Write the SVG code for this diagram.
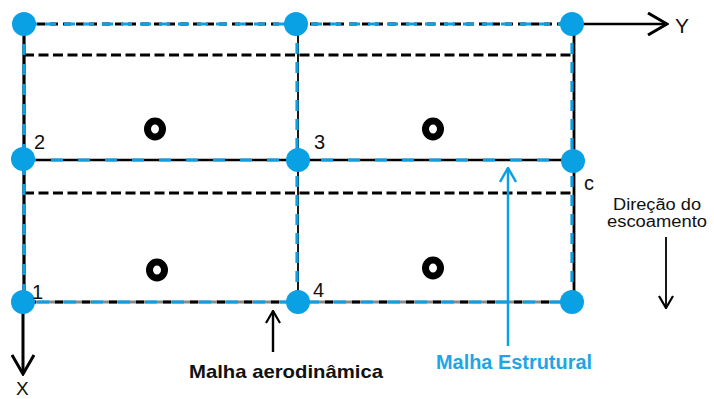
<svg xmlns="http://www.w3.org/2000/svg" width="714" height="399" viewBox="0 0 714 399">
<defs>
<style>
.lbl{font-family:"Liberation Sans",Arial,sans-serif;fill:#111;}
.num{font-family:"Liberation Sans",Arial,sans-serif;fill:#111;font-size:20px;}
.bold{font-family:"Liberation Sans",Arial,sans-serif;font-weight:bold;}
.node{fill:#0aa0e4;}
.ring{fill:none;stroke:#000;stroke-width:7;}
.blk{stroke:#000;fill:none;}
.blue{stroke:#0aa0e4;fill:none;}
.aero{stroke:#000;stroke-width:3.2;stroke-dasharray:10 4.5;fill:none;}
</style>
<marker id="bigK" viewBox="0 0 22 24" refX="20" refY="12" markerWidth="22" markerHeight="24" markerUnits="userSpaceOnUse" orient="auto">
<path d="M1,1 L20,12 L1,23" fill="none" stroke="#000" stroke-width="3"/>
</marker>
<marker id="smK" viewBox="0 0 14 16" refX="13" refY="8" markerWidth="14" markerHeight="16" markerUnits="userSpaceOnUse" orient="auto">
<path d="M1,1 L13,8 L1,15" fill="none" stroke="#000" stroke-width="2.2"/>
</marker>
<marker id="smB" viewBox="0 0 16 18" refX="15" refY="9" markerWidth="16" markerHeight="18" markerUnits="userSpaceOnUse" orient="auto">
<path d="M1,1 L15,9 L1,17" fill="none" stroke="#0aa0e4" stroke-width="2.5"/>
</marker>
</defs>
<rect width="714" height="399" fill="#fff"/>

<g id="aero-mesh">
<line class="aero" x1="24" y1="55" x2="573" y2="55"/>
<line class="aero" x1="24" y1="193" x2="573" y2="193"/>
<line class="blk" x1="24" y1="24" x2="573" y2="24" stroke-width="3" stroke-dasharray="8 5"/>
<line class="blk" x1="24" y1="160" x2="573" y2="160" stroke-width="2.6"/>
<line x1="24" y1="302" x2="573" y2="302" stroke="#8a8a8a" stroke-width="3"/>
<line class="blk" x1="24" y1="302" x2="573" y2="302" stroke-width="3.2" stroke-dasharray="8 19" stroke-dashoffset="-4"/>
<line class="blk" x1="24" y1="24" x2="24" y2="302" stroke-width="3.2"/>
<line class="blk" x1="298" y1="24" x2="298" y2="302" stroke-width="1.8"/>
<line class="blk" x1="574" y1="24" x2="574" y2="302" stroke-width="2.8"/>
</g>

<g id="struct-mesh">
<line class="blue" x1="24" y1="24" x2="573" y2="24" stroke-width="3.2" stroke-dasharray="11 8" stroke-dashoffset="-2"/>
<line class="blue" x1="24" y1="160" x2="573" y2="160" stroke-width="3.2" stroke-dasharray="12 15"/>
<line class="blue" x1="24" y1="302" x2="573" y2="302" stroke-width="3.2" stroke-dasharray="12 15" stroke-dashoffset="-13"/>
<line class="blue" x1="24" y1="24" x2="24" y2="302" stroke-width="3.2" stroke-dasharray="11 9"/>
<line class="blue" x1="297" y1="24" x2="297" y2="302" stroke-width="3.2" stroke-dasharray="11 8"/>
<line class="blue" x1="572" y1="24" x2="572" y2="302" stroke-width="3.2" stroke-dasharray="11 8"/>
</g>

<g id="connectors">
<line x1="573" y1="24" x2="667" y2="24" stroke="#000" stroke-width="2.6" marker-end="url(#bigK)"/>
<line x1="23" y1="302" x2="23" y2="374" stroke="#000" stroke-width="3" marker-end="url(#bigK)"/>
<line x1="666" y1="237" x2="666" y2="308" stroke="#000" stroke-width="1.8" marker-end="url(#smK)"/>
<line x1="273" y1="352" x2="273" y2="311" stroke="#000" stroke-width="2.4" marker-end="url(#smK)"/>
<line x1="508" y1="346" x2="508" y2="168" stroke="#0aa0e4" stroke-width="2.5" marker-end="url(#smB)"/>
</g>

<g id="n1"><circle class="node" cx="23" cy="302" r="12"/><text class="num" x="32" y="299">1</text></g>
<g id="n2"><circle class="node" cx="23" cy="159" r="12"/><text class="num" x="34" y="149">2</text></g>
<g id="n3"><circle class="node" cx="298" cy="160" r="12"/><text class="num" x="314" y="149">3</text></g>
<g id="n4"><circle class="node" cx="298" cy="302" r="12"/><text class="num" x="313" y="297">4</text></g>
<g id="n5"><circle class="node" cx="24" cy="24" r="12"/></g>
<g id="n6"><circle class="node" cx="296" cy="24" r="12"/></g>
<g id="n7"><circle class="node" cx="572" cy="24" r="12"/></g>
<g id="n8"><circle class="node" cx="573" cy="161" r="12"/><text class="lbl" x="584" y="190" font-size="20">c</text></g>
<g id="n9"><circle class="node" cx="572" cy="302" r="12"/></g>

<g id="control-points">
<ellipse class="ring" cx="155" cy="129" rx="7.5" ry="8"/>
<ellipse class="ring" cx="433" cy="129" rx="7.5" ry="8"/>
<ellipse class="ring" cx="157" cy="270" rx="7.5" ry="8"/>
<ellipse class="ring" cx="433" cy="268" rx="7.5" ry="8"/>
</g>

<g id="labels">
<text class="lbl" x="675" y="33" font-size="21">Y</text>
<text class="lbl" x="16" y="395" font-size="19">X</text>
<text class="lbl" x="613" y="210" font-size="16" textLength="88" lengthAdjust="spacingAndGlyphs">Direção do</text>
<text class="lbl" x="607" y="227" font-size="16" textLength="100" lengthAdjust="spacingAndGlyphs">escoamento</text>
<text class="bold" x="189" y="378" font-size="19" fill="#111" textLength="194" lengthAdjust="spacingAndGlyphs">Malha aerodinâmica</text>
<text class="bold" x="436" y="369" font-size="19.5" fill="#1ea5e6" textLength="156" lengthAdjust="spacingAndGlyphs">Malha Estrutural</text>
</g>
</svg>
